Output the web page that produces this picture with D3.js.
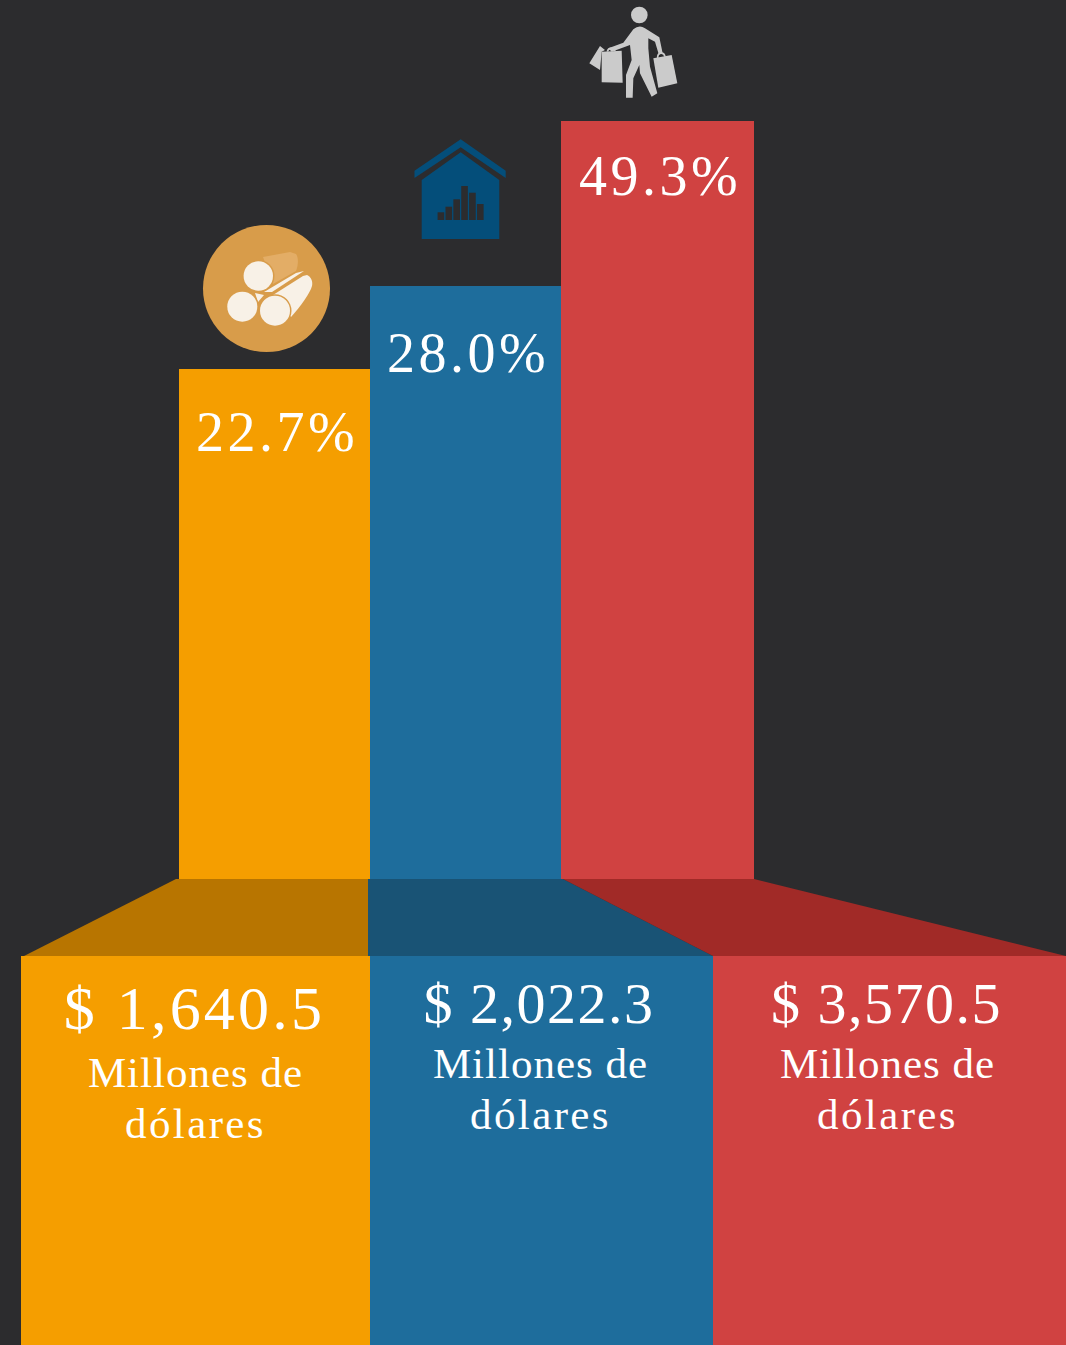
<!DOCTYPE html>
<html><head><meta charset="utf-8">
<script src="https://cdn.jsdelivr.net/npm/d3@7/dist/d3.min.js"></script>
<style>html,body{margin:0;padding:0;background:#2c2c2e}svg{display:block}text{font-family:"Liberation Serif",serif;fill:#fff;text-anchor:middle}</style>
</head><body><svg id="c" width="1066" height="1345"></svg>
<script>
const sectors = ["primario","secundario","terciario"];
const shares = [22.7,28.0,49.3];
const amounts = [1640.5,2022.3,3570.5];
const barColors = ["#f59e00","#1e6d9c","#d04241"];
const linkColors = ["#b87500","#195375","#a12a27"];
const unitLines = ["Millones de","dólares"];

const W=1066,H=1345;
const svg=d3.select("#c");
svg.append("rect").attr("width",W).attr("height",H).attr("fill","#2c2c2e");

// piecewise scales: the source graphic is not drawn proportionally
const y=d3.scaleLinear().domain(shares).range([369,286,121]);
const barBase=879, panelTop=956;
const barEdges=d3.scaleOrdinal().domain(sectors).range([[179,370],[370,561],[561,754]]);
const panelEdges=d3.scaleOrdinal().domain(sectors).range([[21,370],[370,713],[713,1066]]);
const linkTop=d3.scaleOrdinal().domain(sectors).range([[176,368],[368,563],[563,754]]);
const linkBottom=d3.scaleOrdinal().domain(sectors).range([[24,368],[368,713],[713,1066]]);
const shareDy=d3.scaleOrdinal().domain(sectors).range([82,86,74]);
const amountStyle=d3.scaleOrdinal().domain(sectors).range([
 {y:1029,size:62,ls:3.2,dx:-1},{y:1023,size:58,ls:1.5,dx:-2.5},{y:1023,size:58,ls:1.5,dx:-3}]);
const unitStyle=d3.scaleOrdinal().domain(sectors).range([{y:1086.5,dx:0},{y:1078,dx:-1},{y:1078,dx:-2}]);

const data=sectors.map((s,i)=>({s,share:shares[i],amount:amounts[i],c:barColors[i],l:linkColors[i]}));

svg.selectAll("rect.bar").data(data).join("rect").attr("class","bar")
 .attr("x",d=>barEdges(d.s)[0]).attr("width",d=>barEdges(d.s)[1]-barEdges(d.s)[0])
 .attr("y",d=>y(d.share)).attr("height",d=>barBase-y(d.share)).attr("fill",d=>d.c);

const line=d3.line();
svg.selectAll("path.link").data(data).join("path").attr("class","link")
 .attr("d",d=>{const t=linkTop(d.s),b=linkBottom(d.s);
   return line([[t[0],barBase],[t[1],barBase],[b[1],panelTop],[b[0],panelTop]])+"Z";})
 .attr("fill",d=>d.l);

svg.selectAll("rect.panel").data(data).join("rect").attr("class","panel")
 .attr("x",d=>panelEdges(d.s)[0]).attr("width",d=>panelEdges(d.s)[1]-panelEdges(d.s)[0])
 .attr("y",panelTop).attr("height",H-panelTop).attr("fill",d=>d.c);

svg.selectAll("text.share").data(data).join("text").attr("class","share")
 .attr("x",d=>(barEdges(d.s)[0]+barEdges(d.s)[1])/2+2.5)
 .attr("y",d=>y(d.share)+shareDy(d.s)).style("font-size","56px").style("letter-spacing","3.5px")
 .text(d=>d.share.toFixed(1)+"%");

const cx=d=>(panelEdges(d.s)[0]+panelEdges(d.s)[1])/2;
svg.selectAll("text.amount").data(data).join("text").attr("class","amount")
 .attr("x",d=>cx(d)+amountStyle(d.s).dx)
 .attr("y",d=>amountStyle(d.s).y)
 .style("font-size",d=>amountStyle(d.s).size+"px").style("letter-spacing",d=>amountStyle(d.s).ls+"px")
 .text(d=>"$ "+d3.format(",.1f")(d.amount));

unitLines.forEach((t,k)=>{
 svg.selectAll("text.u"+k).data(data).join("text").attr("class","u"+k)
  .attr("x",d=>cx(d)+unitStyle(d.s).dx)
  .attr("y",d=>unitStyle(d.s).y+k*51)
  .style("font-size","43px").style("letter-spacing",k?"2.4px":"1px").text(t);
});

// ---- icons ----
const cream="#f8f1e7", tan="#d89c4a";
const logs=svg.append("g");
logs.append("circle").attr("cx",266.5).attr("cy",288.5).attr("r",63.5).attr("fill",tan);
logs.append("path").attr("fill","#e3ad66").attr("d","M263 257 L290 252 L296 254 C299 258 298 266 296 271 L273 284 Z");
logs.append("path").attr("fill",cream).attr("d","M264 292 L296 273 L304 271 L272 292 Z");
logs.append("path").attr("fill",cream).attr("d","M255 293 L264 295 L258 302 Z");
logs.append("path").attr("fill",cream).attr("d","M273 295 L303 276 L307 275 C311 277 313 281 312 286 C310 293 301 306 291 317 Z");
[[258.3,276,14.7],[242.3,306.7,15],[275,310.7,15]].forEach(e=>{
 logs.append("circle").attr("cx",e[0]).attr("cy",e[1]).attr("r",e[2]+1.5).attr("fill",tan);
 logs.append("circle").attr("cx",e[0]).attr("cy",e[1]).attr("r",e[2]).attr("fill",cream);
});

const house=svg.append("g").attr("fill","#044e7a");
house.append("path").attr("d","M460.7 139.3 L505.7 170.7 L505.7 178 L460.7 147.3 L414.5 178 L414.5 170.7 Z");
house.append("path").attr("d","M460.7 152.3 L499.3 180 L499.3 239 L421.7 239 L421.7 180 Z");
const hb=[7.7,13.3,20.7,34,27.3,16];
const hx=d3.scaleBand().domain(d3.range(hb.length)).range([437.6,483.6]).paddingInner(.16);
house.selectAll("rect").data(hb).join("rect").attr("x",(d,i)=>hx(i)).attr("width",hx.bandwidth())
 .attr("y",d=>220-d).attr("height",d=>d).attr("fill","#2c2c2e");

const shop=svg.append("g").attr("fill","#cbcbcb").attr("transform","translate(580,0) scale(0.3333)");
shop.append("circle").attr("cx",178).attr("cy",45).attr("r",25);
shop.append("path").attr("d","M85 145 L130 128 L160 88 Q178 72 195 85 L238 112 L248 160 L236 162 L225 125 L205 115 L205 145 L210 200 L232 280 L215 290 L180 220 L178 195 L160 235 L158 293 L138 293 L138 225 L155 180 L150 135 L95 155 Z");
shop.append("path").attr("d","M65 155 L125 152 L128 248 L65 247 Z");
shop.append("path").attr("d","M28 190 L60 138 L75 150 L65 155 L60 210 Z");
shop.append("path").attr("d","M220 175 L275 165 L292 250 L235 263 Z");
shop.append("path").attr("fill","none").attr("stroke","#cbcbcb").attr("stroke-width",5).attr("d","M233 175 C232 155 252 155 255 170 M82 155 C85 142 100 142 105 153");
</script></body></html>
